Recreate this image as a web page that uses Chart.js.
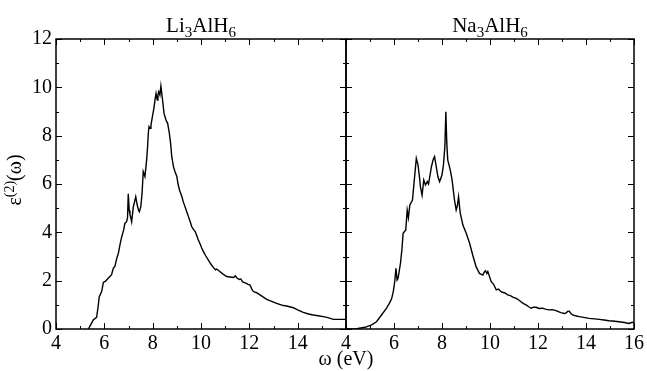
<!DOCTYPE html>
<html>
<head>
<meta charset="utf-8">
<script src="https://cdn.jsdelivr.net/npm/chart.js@4.4.0/dist/chart.umd.min.js"></script>
<style>
  body { margin: 0; background: #fff; }
  #wrap { position: relative; width: 647px; height: 371px; }
  #wrap canvas { position: absolute; left: 0; top: 0; }
</style>
</head>
<body>
<div id="wrap">
  <canvas id="leftChart" width="647" height="371"></canvas>
  <canvas id="rightChart" width="647" height="371"></canvas>
</div>
<script>
// Li3AlH6 spectrum (omega in eV, eps2)
let liX = [5.34, 5.45, 5.54, 5.68, 5.74, 5.79, 5.89, 5.96, 6.05, 6.16, 6.30, 6.37, 6.44, 6.52, 6.58, 6.65, 6.72, 6.80, 6.85, 6.92,
  6.96, 6.99, 7.03, 7.06, 7.13, 7.20, 7.26, 7.30, 7.36, 7.42, 7.45, 7.51, 7.56, 7.61, 7.68, 7.75, 7.79, 7.82, 7.85, 7.89,
  7.93, 8.00, 8.05, 8.10, 8.14, 8.19, 8.22, 8.25, 8.30, 8.34, 8.37, 8.41, 8.47, 8.55, 8.62, 8.69, 8.74, 8.79, 8.83, 8.86,
  8.93, 9.00, 9.05, 9.11, 9.21, 9.27, 9.34, 9.41, 9.48, 9.55, 9.62, 9.70, 9.76, 9.83, 9.89, 9.95, 10.03, 10.10, 10.20, 10.30,
  10.40, 10.51, 10.60, 10.65, 10.79, 10.90, 11.06, 11.20, 11.35, 11.42, 11.48, 11.58, 11.65, 11.72, 11.85, 11.95, 12.03, 12.10, 12.17, 12.30,
  12.44, 12.58, 12.72, 12.90, 13.13, 13.25, 13.41, 13.55, 13.70, 13.82, 14.00, 14.23, 14.45, 14.65, 14.85, 15.06, 15.25, 15.48, 15.75, 16.00];
let liY = [0, 0.2, 0.37, 0.48, 0.9, 1.34, 1.55, 1.93, 1.98, 2.10, 2.25, 2.51, 2.6, 2.95, 3.13, 3.5, 3.82, 4.1, 4.37, 4.44,
  4.6, 5.6, 4.9, 4.75, 4.44, 5.06, 5.3, 5.47, 5.13, 4.9, 4.85, 5.06, 5.6, 6.51, 6.31, 6.99, 7.54, 8.1, 8.37, 8.3,
  8.44, 8.85, 9.13, 9.5, 9.75, 9.47, 9.7, 9.82, 9.68, 10.05, 9.8, 9.47, 8.92, 8.65, 8.51, 8.10, 7.7, 7.13, 6.9, 6.72,
  6.5, 6.31, 6.0, 5.75, 5.47, 5.25, 5.06, 4.85, 4.65, 4.45, 4.23, 4.1, 4.03, 3.85, 3.68, 3.55, 3.35, 3.2, 3.02, 2.86,
  2.7, 2.55, 2.45, 2.48, 2.37, 2.28, 2.17, 2.15, 2.13, 2.2, 2.12, 2.05, 2.07, 1.95, 1.9, 1.85, 1.82, 1.65, 1.55, 1.5,
  1.41, 1.32, 1.23, 1.15, 1.06, 1.02, 0.97, 0.95, 0.91, 0.88, 0.79, 0.69, 0.62, 0.58, 0.55, 0.51, 0.47, 0.40, 0.40, 0.40];

// Na3AlH6 spectrum
let naX = [4.00, 4.44, 4.79, 5.07, 5.27, 5.48, 5.69, 5.80, 5.90, 5.97, 6.03, 6.08, 6.13, 6.17, 6.27, 6.33, 6.38, 6.49, 6.55, 6.60,
  6.66, 6.77, 6.84, 6.93, 7.00, 7.06, 7.10, 7.17, 7.24, 7.31, 7.39, 7.44, 7.49, 7.56, 7.63, 7.69, 7.73, 7.76, 7.83, 7.90,
  8.00, 8.06, 8.12, 8.16, 8.20, 8.24, 8.31, 8.36, 8.42, 8.52, 8.59, 8.64, 8.69, 8.76, 8.87, 9.01, 9.15, 9.28, 9.42, 9.56,
  9.70, 9.76, 9.81, 9.87, 9.91, 10.05, 10.15, 10.26, 10.35, 10.42, 10.50, 10.60, 10.74, 10.85, 10.95, 11.09, 11.20, 11.29, 11.40, 11.50,
  11.60, 11.71, 11.80, 11.92, 12.05, 12.19, 12.30, 12.47, 12.60, 12.75, 12.85, 12.95, 13.10, 13.16, 13.25, 13.30, 13.38, 13.44, 13.60, 13.72,
  13.90, 14.13, 14.35, 14.55, 14.75, 14.96, 15.20, 15.38, 15.60, 15.79, 15.90, 16.00];
let naY = [0, 0.01, 0.07, 0.17, 0.30, 0.58, 0.86, 1.05, 1.25, 1.55, 1.96, 2.51, 2.03, 2.1, 2.72, 3.3, 3.96, 4.1, 4.92, 4.6,
  5.13, 5.34, 6.1, 7.06, 6.79, 6.3, 5.89, 5.54, 6.17, 5.96, 6.1, 6.0, 6.30, 6.72, 7.0, 7.13, 6.9, 6.72, 6.30, 6.10,
  6.37, 6.79, 7.54, 8.99, 7.68, 6.99, 6.72, 6.5, 6.17, 5.34, 4.92, 5.1, 5.47, 4.79, 4.3, 3.96, 3.55, 3.06, 2.58, 2.3,
  2.23, 2.35, 2.41, 2.3, 2.38, 1.96, 1.85, 1.62, 1.65, 1.58, 1.52, 1.50, 1.41, 1.38, 1.32, 1.27, 1.2, 1.13, 1.05, 1.0,
  0.93, 0.86, 0.9, 0.9, 0.85, 0.86, 0.82, 0.79, 0.8, 0.76, 0.72, 0.68, 0.64, 0.66, 0.74, 0.74, 0.63, 0.58, 0.54, 0.51,
  0.48, 0.44, 0.42, 0.40, 0.37, 0.34, 0.32, 0.30, 0.27, 0.23, 0.27, 0.28];

let panelTitles = [["Li", "3", "AlH", "6"], ["Na", "3", "AlH", "6"]];
let xTitle = "ω (eV)";
let yTitle = ["ε", "(2)", "(ω)"];

const serif = "'Liberation Serif', 'DejaVu Serif', serif";

// draw a string made of alternating normal / subscript (or superscript) pieces, centred on cx
function drawPieces(ctx, pieces, cx, y, size, shift) {
  let widths = pieces.map((p, i) => {
    ctx.font = (i % 2 ? Math.round(size * 0.7) : size) + "px " + serif;
    return ctx.measureText(p).width;
  });
  let x = cx - widths.reduce((a, b) => a + b, 0) / 2;
  pieces.forEach((p, i) => {
    ctx.font = (i % 2 ? Math.round(size * 0.7) : size) + "px " + serif;
    ctx.fillText(p, x, i % 2 ? y + shift : y);
    x += widths[i];
  });
}

// frame with inward ticks on all four sides, plus titles
const framePlugin = {
  id: "frame",
  afterDraw(chart, args, opts) {
    let ctx = chart.ctx;
    let a = chart.chartArea;
    let xs = chart.scales.x, ys = chart.scales.y;
    ctx.save();
    ctx.strokeStyle = "#000";
    ctx.lineWidth = 1;
    ctx.beginPath();
    for (let v = xs.min; v <= xs.max; v++) {
      let p = Math.round(xs.getPixelForValue(v)) + 0.5;
      let len = v % 2 === 0 ? 6 : 3;
      ctx.moveTo(p, a.bottom); ctx.lineTo(p, a.bottom - len);
      ctx.moveTo(p, a.top); ctx.lineTo(p, a.top + len);
    }
    for (let v = ys.min; v <= ys.max; v++) {
      let p = Math.round(ys.getPixelForValue(v)) + 0.5;
      let len = v % 2 === 0 ? 6 : 3;
      ctx.moveTo(a.left, p); ctx.lineTo(a.left + len, p);
      ctx.moveTo(a.right, p); ctx.lineTo(a.right - len, p);
    }
    ctx.stroke();
    ctx.lineWidth = 1.5;
    ctx.strokeRect(a.left, a.top, a.right - a.left, a.bottom - a.top);

    ctx.fillStyle = "#000";
    ctx.textBaseline = "alphabetic";
    ctx.textAlign = "left";
    drawPieces(ctx, opts.title, (a.left + a.right) / 2, 32, 21, 5);

    if (opts.axisTitles) {
      ctx.textAlign = "center";
      ctx.font = "20px " + serif;
      ctx.fillText(xTitle, a.right, 365);
      ctx.textAlign = "left";
      ctx.save();
      ctx.translate(21, (a.top + a.bottom) / 2 - 4);
      ctx.rotate(-Math.PI / 2);
      drawPieces(ctx, yTitle, 0, 0, 20, -7);
      ctx.restore();
    }
    ctx.restore();
  }
};

function makePanel(canvasId, xs, ys, opts) {
  let ctx = document.getElementById(canvasId).getContext("2d");
  return new Chart(ctx, {
    type: "line",
    data: {
      datasets: [{
        data: xs.map((x, i) => ({ x: x, y: ys[i] })),
        borderColor: "#000",
        borderWidth: 1.4,
        pointRadius: 0,
        tension: 0,
        fill: false
      }]
    },
    options: {
      responsive: false,
      animation: false,
      devicePixelRatio: 1,
      layout: { padding: opts.padding },
      plugins: {
        legend: { display: false },
        tooltip: { enabled: false },
        frame: { title: opts.title, axisTitles: opts.axisTitles }
      },
      scales: {
        x: {
          type: "linear",
          min: 4, max: 16,
          grid: { display: false, drawTicks: false },
          border: { display: false },
          afterFit: s => { s.height = 42; },
          ticks: {
            stepSize: 2,
            autoSkip: false,
            maxRotation: 0,
            padding: 3,
            color: "#000",
            font: { family: serif, size: 20 },
            callback: v => (opts.hideLast && v === 16) ? "" : v
          }
        },
        y: {
          min: 0, max: 12,
          display: opts.showY,
          grid: { display: false, drawTicks: false },
          border: { display: false },
          afterFit: s => { s.width = opts.showY ? 56 : 0; },
          ticks: {
            stepSize: 2,
            padding: 4,
            color: "#000",
            font: { family: serif, size: 20 }
          }
        }
      }
    },
    plugins: [framePlugin]
  });
}

makePanel("leftChart", liX, liY, {
  padding: { left: 0, right: 301, top: 39, bottom: 0 },
  title: panelTitles[0], axisTitles: true, showY: true, hideLast: true
});
makePanel("rightChart", naX, naY, {
  padding: { left: 346, right: 12, top: 39, bottom: 0 },
  title: panelTitles[1], axisTitles: false, showY: false, hideLast: false
});
</script>
</body>
</html>
